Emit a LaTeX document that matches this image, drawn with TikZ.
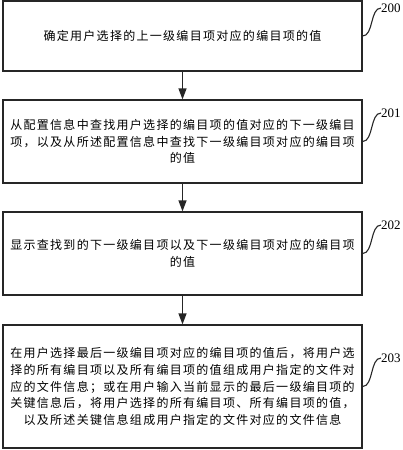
\documentclass[tikz,border=0pt]{standalone}
\usepackage{fontspec}
\setmainfont{Liberation Serif}
\newfontfamily\cjk[LetterSpace=10.8]{Noto Sans CJK SC}
\usetikzlibrary{arrows.meta}
\begin{document}
\begin{tikzpicture}[x=1pt,y=-1pt,
  stepbox/.style={draw=black!85,line width=1.2pt,rectangle,minimum width=359pt,inner sep=0pt,
    align=center,font=\cjk\fontsize{12}{16.8}\selectfont},
  flow/.style={draw=black!85,line width=1.2pt,-{Triangle[length=11pt,width=8pt]}},
  leader/.style={draw=black!85,line width=1.1pt},
  tag/.style={anchor=west,inner sep=0pt,font=\fontsize{13}{13}\selectfont}]
\useasboundingbox (0,0) rectangle (403,450);
\node[stepbox,minimum height=70pt] (b1) at (182.5,36) {确定用户选择的上一级编目项对应的编目项的值};
\node[stepbox,minimum height=83pt] (b2) at (182.5,141.5) {从配置信息中查找用户选择的编目项的值对应的下一级编目\\项，以及从所述配置信息中查找下一级编目项对应的编目项\\的值};
\node[stepbox,minimum height=83pt] (b3) at (182.5,253.5) {显示查找到的下一级编目项以及下一级编目项对应的编目项\\的值};
\node[stepbox,minimum height=123pt] (b4) at (182.5,386.5) {在用户选择最后一级编目项对应的编目项的值后，将用户选\\择的所有编目项以及所有编目项的值组成用户指定的文件对\\应的文件信息；或在用户输入当前显示的最后一级编目项的\\关键信息后，将用户选择的所有编目项、所有编目项的值，\\以及所述关键信息组成用户指定的文件对应的文件信息};
\draw[flow] (b1) -- (b2);
\draw[flow] (b2) -- (b3);
\draw[flow] (b3) -- (b4);
\node[tag] (t1) at (381,8) {200};
\node[tag] (t2) at (381,113) {201};
\node[tag] (t3) at (381,225) {202};
\node[tag] (t4) at (381,358) {203};
\draw[leader] (b1.east) .. controls +(11,0) and +(-11,0) .. (t1.west);
\draw[leader] (b2.east) .. controls +(11,0) and +(-11,0) .. (t2.west);
\draw[leader] (b3.east) .. controls +(11,0) and +(-11,0) .. (t3.west);
\draw[leader] (b4.east) .. controls +(11,0) and +(-11,0) .. (t4.west);
\end{tikzpicture}
\end{document}
